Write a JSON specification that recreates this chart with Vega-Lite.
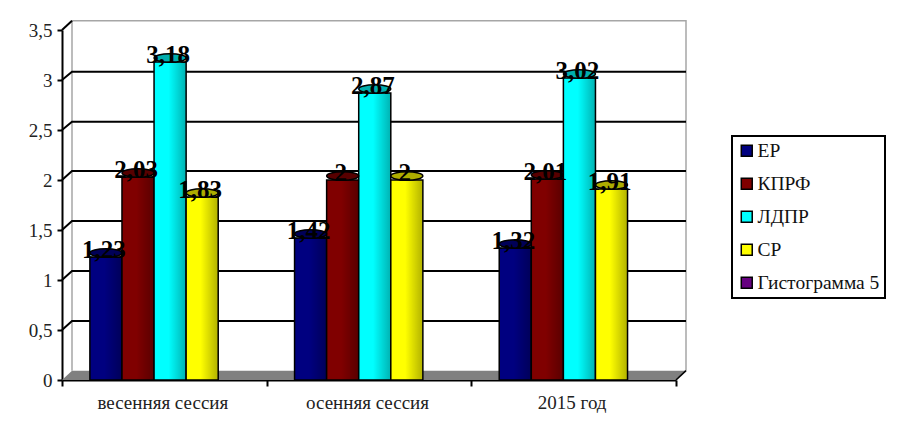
{
"$schema":"https://vega.github.io/schema/vega-lite/v6.json",
"width":614,"height":350,
"autosize":{"type":"none"},
"padding":{"left":62,"top":30,"right":224,"bottom":41},
"background":"white",
"view":{"stroke":null},
"config":{"font":"Liberation Serif","view":{"stroke":null},"legend":{"strokeWidth":2}},
"datasets":{
"bars":[
{"period":"весенняя сессия","party":"ЕР","value":1.23,"label":"1,23"},
{"period":"весенняя сессия","party":"КПРФ","value":2.03,"label":"2,03"},
{"period":"весенняя сессия","party":"ЛДПР","value":3.18,"label":"3,18"},
{"period":"весенняя сессия","party":"СР","value":1.83,"label":"1,83"},
{"period":"осенняя сессия","party":"ЕР","value":1.42,"label":"1,42"},
{"period":"осенняя сессия","party":"КПРФ","value":2.0,"label":"2"},
{"period":"осенняя сессия","party":"ЛДПР","value":2.87,"label":"2,87"},
{"period":"осенняя сессия","party":"СР","value":2.0,"label":"2"},
{"period":"2015 год","party":"ЕР","value":1.32,"label":"1,32"},
{"period":"2015 год","party":"КПРФ","value":2.01,"label":"2,01"},
{"period":"2015 год","party":"ЛДПР","value":3.02,"label":"3,02"},
{"period":"2015 год","party":"СР","value":1.91,"label":"1,91"}
],
"grid":[
{"fx":0,"lvl":0.5,"v":0.5},{"fx":10,"lvl":0.5,"v":0.59},{"fx":624,"lvl":0.5,"v":0.59},
{"fx":0,"lvl":1,"v":1},{"fx":10,"lvl":1,"v":1.09},{"fx":624,"lvl":1,"v":1.09},
{"fx":0,"lvl":1.5,"v":1.5},{"fx":10,"lvl":1.5,"v":1.59},{"fx":624,"lvl":1.5,"v":1.59},
{"fx":0,"lvl":2,"v":2},{"fx":10,"lvl":2,"v":2.09},{"fx":624,"lvl":2,"v":2.09},
{"fx":0,"lvl":2.5,"v":2.5},{"fx":10,"lvl":2.5,"v":2.583},{"fx":624,"lvl":2.5,"v":2.583},
{"fx":0,"lvl":3,"v":3},{"fx":10,"lvl":3,"v":3.083},{"fx":624,"lvl":3,"v":3.083},
{"fx":0,"lvl":3.5,"v":3.5},{"fx":10,"lvl":3.5,"v":3.593}
],
"floor":[
{"fx":0,"lo":0,"hi":0},{"fx":10,"lo":0,"hi":0.093},{"fx":614,"lo":0,"hi":0.093},{"fx":624,"lo":0.093,"hi":0.093}
],
"wall":[
{"fx":10,"v":0.093},{"fx":10,"v":3.593},{"fx":624,"v":3.593},{"fx":624,"v":0.093}
],
"corner":[{"fx":614,"v":0},{"fx":624,"v":0.093}]
},
"layer":[
{"layer":[
{"data":{"name":"floor"},"mark":{"type":"area","color":"#808080"},
"encoding":{"x":{"field":"fx","type":"quantitative","scale":{"domain":[0,614],"nice":false,"zero":false},"axis":null},
"y":{"field":"lo","type":"quantitative","scale":{"domain":[0,3.5],"nice":false},"axis":{"title":null,"values":[0,0.5,1,1.5,2,2.5,3,3.5],"labelExpr":"replace(datum.label,'.',',')","format":"~g","grid":false,"domainColor":"#000","domainWidth":2,"tickColor":"#000","tickWidth":2,"tickSize":5,"labelFontSize":19,"labelColor":"#222","labelPadding":5,"labelFont":"Liberation Serif"}},
"y2":{"field":"hi"}}},
{"data":{"name":"wall"},"mark":{"type":"line","color":"#a6a6a6","strokeWidth":1.5},
"encoding":{"x":{"field":"fx","type":"quantitative"},"y":{"field":"v","type":"quantitative"},"order":{"field":"ord"}}},
{"data":{"name":"grid"},"mark":{"type":"line","color":"#000","strokeWidth":2},
"encoding":{"x":{"field":"fx","type":"quantitative"},"y":{"field":"v","type":"quantitative"},"detail":{"field":"lvl"}}},
{"data":{"name":"corner"},"mark":{"type":"line","color":"#000","strokeWidth":1.6},
"encoding":{"x":{"field":"fx","type":"quantitative"},"y":{"field":"v","type":"quantitative"}}}
]},
{"data":{"name":"bars"},
"encoding":{
"x":{"field":"period","type":"nominal","sort":null,"scale":{"type":"band","paddingInner":0,"paddingOuter":0,"domain":["весенняя сессия","осенняя сессия","2015 год"]},
"axis":{"orient":"bottom","title":null,"labelAngle":0,"labelFontSize":19,"labelColor":"#222","labelFont":"Liberation Serif","labelOffset":-2,"labelPadding":7,"tickBand":"extent","tickColor":"#000","tickWidth":2,"tickSize":6,"domainColor":"#000","domainWidth":2,"grid":false}},
"xOffset":{"field":"party","type":"nominal","sort":null,"scale":{"domain":["ЕР","КПРФ","ЛДПР","СР","Гистограмма 5"],"paddingInner":0,"paddingOuter":0.69,"align":0.63}},
"y":{"field":"value","type":"quantitative"}
},
"layer":[
{"mark":{"type":"bar","stroke":"#000","strokeWidth":1.5},
"encoding":{"color":{"field":"party","type":"nominal","scale":{"domain":["ЕР","КПРФ","ЛДПР","СР","Гистограмма 5"],"range":["#000080","#800000","#00ffff","#ffff00","#660080"]},
"legend":{"title":null,"orient":"none","legendX":670,"legendY":106,"strokeColor":"#000","fillColor":"#fff","padding":5,"symbolType":"square","symbolSize":120,"symbolStrokeColor":"#000","symbolStrokeWidth":1.5,"labelFontSize":19.5,"labelColor":"#111","labelFont":"Liberation Serif","labelOffset":1,"rowPadding":12,"symbolOpacity":1}}}},
{"mark":{"type":"bar","fill":{"x1":0,"y1":0,"x2":1,"y2":0,"gradient":"linear","stops":[{"offset":0,"color":"rgba(0,0,0,0)"},{"offset":0.45,"color":"rgba(0,0,0,0)"},{"offset":1,"color":"rgba(0,0,0,0.3)"}]}}},
{"mark":{"type":"point","filled":true,"yOffset":-4,"shape":"M-1,0A1,0.26,0,1,0,1,0A1,0.26,0,1,0,-1,0Z","size":1024,"stroke":"#000","strokeWidth":1.5,"opacity":1},
"encoding":{"x":{"field":"period","type":"nominal","sort":null,"bandPosition":0.5},"color":{"field":"party","type":"nominal","legend":null}}},
{"mark":{"type":"point","filled":true,"yOffset":-4,"shape":"M-1,0A1,0.26,0,1,0,1,0A1,0.26,0,1,0,-1,0Z","size":1024,"color":"#000","opacity":0.32}},
{"mark":{"type":"text","font":"Liberation Serif","fontSize":25,"fontWeight":"bold","color":"#000","dx":-2,"dy":-7,"baseline":"middle","align":"center"},
"encoding":{"text":{"field":"label","type":"nominal"}}}
]
}
],
"resolve":{"scale":{"x":"independent"}}
}
